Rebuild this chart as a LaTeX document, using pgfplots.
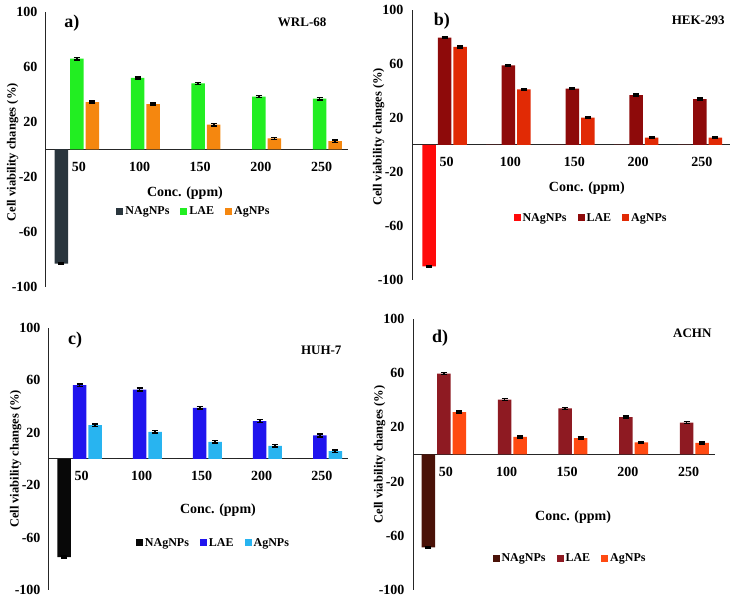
\documentclass[border=0pt]{standalone}
\usepackage{pgfplots}
\pgfplotsset{compat=1.18}
\usepackage{fontspec}
\setmainfont{Liberation Serif}
\definecolor{aN}{HTML}{2A363E}
\definecolor{aL}{HTML}{22EE22}
\definecolor{aA}{HTML}{F5870F}
\definecolor{bN}{HTML}{FF0A0A}
\definecolor{bL}{HTML}{8E0A0A}
\definecolor{bA}{HTML}{E12A05}
\definecolor{cN}{HTML}{080808}
\definecolor{cL}{HTML}{2014EE}
\definecolor{cA}{HTML}{28B4F0}
\definecolor{dN}{HTML}{4A1208}
\definecolor{dL}{HTML}{8E1A22}
\definecolor{dA}{HTML}{FF4A12}
\pgfplotsset{
  panel/.style={
    scale only axis,
    ybar, bar width=13.5pt, bar shift auto,
    ymin=-100, ymax=100,
    ytick={-100,-60,-20,20,60,100},
    xmin=-0.51, xmax=4.47,
    xtick={0,1,2,3,4},
    xticklabels={50,100,150,200,250},
    axis x line=middle, axis y line=left,
    axis line style={-, line width=1pt, black!85},
    major tick length=0pt,
    tick label style={font=\fontsize{14}{14}\selectfont\bfseries},
    /pgf/number format/assume math mode=true,
    xticklabel style={yshift=-9pt, xshift=2pt},
    yticklabel style={xshift=-5pt},
    ylabel={Cell viability changes (\%)},
    ylabel style={font=\fontsize{12.5}{12.5}\selectfont\bfseries, anchor=south, yshift=24pt},
    legend columns=3,
    legend style={draw=none, fill=none, font=\fontsize{12}{12}\selectfont\bfseries, anchor=center,
      /tikz/every even column/.append style={column sep=9pt}},
    legend image code/.code={\fill[#1] (0pt,-3.5pt) rectangle (7pt,3.5pt);},
    error bars/y dir=both, error bars/y explicit,
    error bars/error bar style={line width=1.6pt, black},
    error bars/error mark options={rotate=90, mark size=3pt, line width=1.6pt},
    every axis plot/.append style={draw=none},
  }
}
\begin{document}
\begin{tikzpicture}[x=1pt,y=1pt]
\path[use as bounding box] (0,0) rectangle (734,601);
% ---------- a)
\begin{axis}[panel, at={(46pt,314pt)}, anchor=south west, width=302pt, height=275pt,
  ylabel style={at={(rel axis cs:0,0.49)}},
  legend style={at={(rel axis cs:0.49,0.276)}}]
\addplot[fill=aN] coordinates {(0,-83) +- (0,0.6) (1,0) (2,0) (3,0) (4,0)};
\addplot[fill=aL] coordinates {(0,66) +- (0,0.8) (1,52) +- (0,0.8) (2,48) +- (0,0.8) (3,38.5) +- (0,0.8) (4,37) +- (0,0.8)};
\addplot[fill=aA] coordinates {(0,34.5) +- (0,0.8) (1,33) +- (0,0.8) (2,18) +- (0,0.8) (3,8) +- (0,0.8) (4,6) +- (0,0.8)};
\legend{NAgNPs,LAE,AgNPs}
\node[font=\fontsize{14}{14}\selectfont\bfseries] at (rel axis cs:0.46,0.342) {Conc. (ppm)};
\node[font=\fontsize{18}{18}\selectfont\bfseries] at (rel axis cs:0.086,0.96) {a)};
\node[font=\fontsize{13}{13}\selectfont\bfseries, anchor=east] at (rel axis cs:0.94,0.964) {WRL-68};
\end{axis}
% ---------- b)
\begin{axis}[panel, at={(412pt,321pt)}, anchor=south west, width=318pt, height=270pt,
  ylabel style={at={(rel axis cs:0,0.53)}},
  legend style={at={(rel axis cs:0.563,0.23)}}]
\addplot[fill=bN] coordinates {(0,-90) +- (0,0.5) (1,0) (2,0) (3,0) (4,0)};
\addplot[fill=bL] coordinates {(0,79.5) +- (0,0.6) (1,59) +- (0,0.6) (2,41.7) +- (0,0.6) (3,37) +- (0,0.6) (4,34) +- (0,0.6)};
\addplot[fill=bA] coordinates {(0,72.6) +- (0,0.6) (1,41.2) +- (0,0.6) (2,20.2) +- (0,0.6) (3,5.4) +- (0,0.6) (4,5.4) +- (0,0.6)};
\legend{NAgNPs,LAE,AgNPs}
\node[font=\fontsize{14}{14}\selectfont\bfseries] at (rel axis cs:0.55,0.34) {Conc. (ppm)};
\node[font=\fontsize{18}{18}\selectfont\bfseries] at (rel axis cs:0.094,0.96) {b)};
\node[font=\fontsize{13}{13}\selectfont\bfseries, anchor=east] at (rel axis cs:0.994,0.963) {HEK-293};
\end{axis}
% ---------- c)
\begin{axis}[panel, at={(49pt,11pt)}, anchor=south west, width=299pt, height=262pt,
  ylabel style={at={(rel axis cs:0,0.5)}},
  legend style={at={(rel axis cs:0.55,0.18)}}]
\addplot[fill=cN] coordinates {(0,-75) +- (0,0.8) (1,0) (2,0) (3,0) (4,0)};
\addplot[fill=cL] coordinates {(0,56.4) +- (0,1) (1,53) +- (0,1) (2,39) +- (0,1) (3,29) +- (0,1) (4,18) +- (0,1)};
\addplot[fill=cA] coordinates {(0,25.8) +- (0,1) (1,20.7) +- (0,1) (2,13) +- (0,1) (3,10) +- (0,1) (4,6) +- (0,1)};
\legend{NAgNPs,LAE,AgNPs}
\node[font=\fontsize{14}{14}\selectfont\bfseries] at (rel axis cs:0.565,0.305) {Conc. (ppm)};
\node[font=\fontsize{18}{18}\selectfont\bfseries] at (rel axis cs:0.087,0.954) {c)};
\node[font=\fontsize{13}{13}\selectfont\bfseries, anchor=east] at (rel axis cs:0.99,0.916) {HUH-7};
\end{axis}
% ---------- d)
\begin{axis}[panel, at={(413pt,11pt)}, anchor=south west, width=302pt, height=271pt,
  ylabel style={at={(rel axis cs:0,0.5)}},
  legend style={at={(rel axis cs:0.52,0.118)}}]
\addplot[fill=dN] coordinates {(0,-68.5) +- (0,0.6) (1,0) (2,0) (3,0) (4,0)};
\addplot[fill=dL] coordinates {(0,59.7) +- (0,0.7) (1,40.5) +- (0,0.7) (2,34) +- (0,0.7) (3,27.5) +- (0,0.7) (4,23.6) +- (0,0.7)};
\addplot[fill=dA] coordinates {(0,31.2) +- (0,0.7) (1,13) +- (0,0.7) (2,12) +- (0,0.7) (3,9) +- (0,0.7) (4,8.6) +- (0,0.7)};
\legend{NAgNPs,LAE,AgNPs}
\node[font=\fontsize{14}{14}\selectfont\bfseries] at (rel axis cs:0.53,0.27) {Conc. (ppm)};
\node[font=\fontsize{18}{18}\selectfont\bfseries] at (rel axis cs:0.09,0.93) {d)};
\node[font=\fontsize{13}{13}\selectfont\bfseries, anchor=east] at (rel axis cs:1.0,0.948) {ACHN};
\end{axis}
\end{tikzpicture}
\end{document}
